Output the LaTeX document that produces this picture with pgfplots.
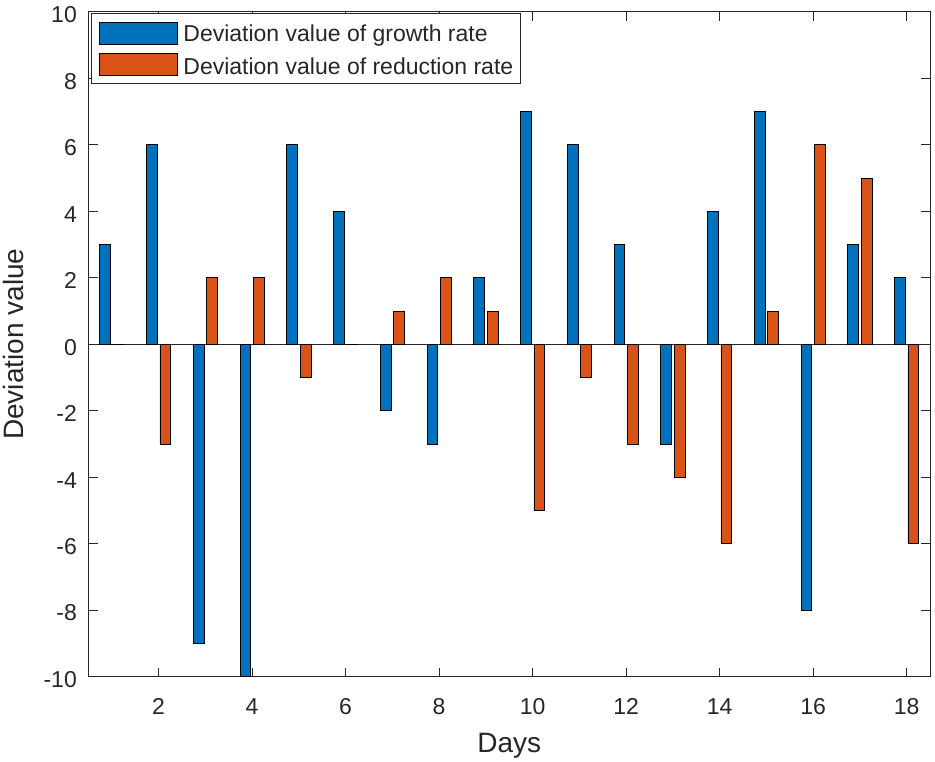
\documentclass[border=0pt]{standalone}
\usepackage{fontspec}
\setmainfont{Liberation Sans}
\usepackage{pgfplots}
\pgfplotsset{compat=1.18}
\definecolor{mblue}{rgb}{0,0.447,0.741}
\definecolor{morange}{rgb}{0.85,0.325,0.098}
\definecolor{axgray}{rgb}{0.15,0.15,0.15}
\pgfplotstableread{
x g r
1 3 0
2 6 -3
3 -9 2
4 -10 2
5 6 -1
6 4 0
7 -2 1
8 -3 2
9 2 1
10 7 -5
11 6 -1
12 3 -3
13 -3 -4
14 4 -6
15 7 1
16 -8 6
17 3 5
18 2 -6
}\datatable
\newcommand{\lstrut}{\rule[-2pt]{0pt}{24pt}}
\begin{document}
\begin{tikzpicture}
\begin{axis}[
 scale only axis, width=841.5pt, height=664.5pt,
 xmin=0.5, xmax=18.5, ymin=-10, ymax=10,
 xtick={2,4,...,18}, ytick={-10,-8,...,10},
 tick align=inside, major tick length=9pt,
 axis line style={axgray, line width=1pt},
 every tick/.style={axgray, line width=1pt},
 tick label style={font=\fontsize{23}{27}\selectfont, text=axgray},
 xticklabel style={anchor=base, inner sep=0pt, yshift=-37.5pt},
 yticklabel style={anchor=east, inner sep=0pt, xshift=-11.5pt, yshift=-3pt},
 /pgf/number format/assume math mode=true,
 xlabel={Days}, ylabel={Deviation value},
 label style={font=\fontsize{28}{32}\selectfont, text=axgray},
 xlabel style={at={([yshift=-75.5pt]axis description cs:0.5,0)}, anchor=base, inner sep=0pt},
 ylabel style={at={([xshift=-65.2pt]axis description cs:0,0.5)}, anchor=base, inner sep=0pt},
 legend style={at={(0,1)}, anchor=north west, xshift=2.5pt, yshift=-1pt,
   draw=axgray, line width=1pt, font=\fontsize{23}{27}\selectfont, text=axgray,
   inner xsep=7.5pt, inner ysep=6.5pt, row sep=6pt, column sep=5.6pt,
   nodes={inner sep=0pt, text depth=}, cells={anchor=west}},
]
\addplot[axgray, line width=1pt, forget plot] coordinates {(0.5,0) (18.5,0)};
\addplot[ybar, bar width=0.2286, bar shift=-0.143, fill=mblue, draw=black, line width=0.8pt,
  legend image code/.code={\draw[fill=mblue, draw=black, line width=0.8pt] (0pt,-11pt) rectangle (78pt,11pt);}]
  table[x=x, y=g] {\datatable};
\addlegendentry{\lstrut Deviation value of growth rate}
\addplot[ybar, bar width=0.2286, bar shift=0.143, fill=morange, draw=black, line width=0.8pt,
  legend image code/.code={\draw[fill=morange, draw=black, line width=0.8pt] (0pt,-11pt) rectangle (78pt,11pt);}]
  table[x=x, y=r] {\datatable};
\addlegendentry{\lstrut Deviation value of reduction rate\hspace{8pt}}
\end{axis}
\path ([xshift=-88.5pt,yshift=-84.5pt]current axis.south west) ([xshift=5pt,yshift=12pt]current axis.north east);
\end{tikzpicture}
\end{document}
